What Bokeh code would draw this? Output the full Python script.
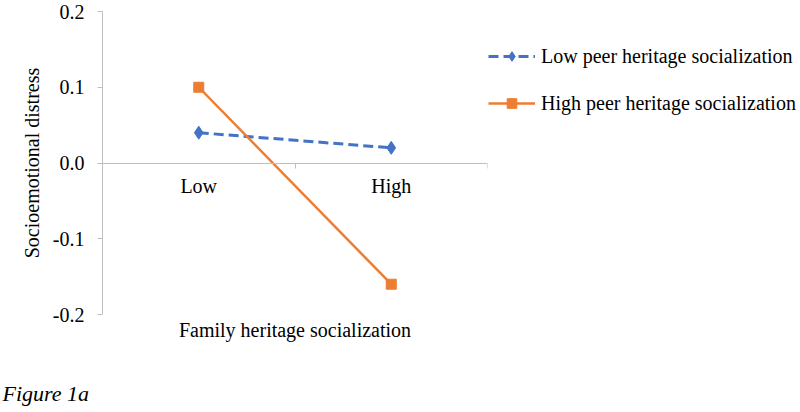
from bokeh.plotting import figure
from bokeh.models import (FixedTicker, NumeralTickFormatter, Legend, LegendItem,
                          Range1d, ColumnDataSource, Title)
from bokeh.embed import file_html
from bokeh.resources import INLINE

categories = ["Low", "High"]
low_peer = [0.04, 0.02]
high_peer = [0.10, -0.16]
y_ticks = [-0.2, -0.1, 0.0, 0.1, 0.2]
series_names = ["Low peer heritage socialization", "High peer heritage socialization"]

FONT = "Liberation Serif"
FS = "20px"
AXIS_GRAY = "#BFBFBF"
BLUE = "#4472C4"
ORANGE = "#ED7D31"

xpos = [i + 0.5 for i in range(len(categories))]

p = figure(frame_width=385, frame_height=303, output_backend="svg", toolbar_location=None,
           x_range=Range1d(0, len(categories)), y_range=Range1d(-0.2, 0.2),
           min_border_left=102, min_border_right=312,
           min_border_top=11, min_border_bottom=0)
p.outline_line_color = None
p.xgrid.visible = False
p.ygrid.visible = False
p.background_fill_color = "white"
p.border_fill_color = "white"

# y axis
ya = p.yaxis[0]
ya.ticker = FixedTicker(ticks=y_ticks, minor_ticks=[])
ya.formatter = NumeralTickFormatter(format="0.0")
ya.axis_line_color = AXIS_GRAY
ya.major_tick_line_color = AXIS_GRAY
ya.major_tick_out = 5
ya.major_tick_in = 0
ya.minor_tick_line_color = None
ya.major_label_text_font = FONT
ya.major_label_text_font_size = FS
ya.major_label_text_color = "black"
ya.major_label_standoff = 13
ya.axis_label = "Socioemotional distress"
ya.axis_label_text_font = FONT
ya.axis_label_text_font_size = FS
ya.axis_label_text_font_style = "normal"
ya.axis_label_text_color = "black"
ya.axis_label_standoff = 7

# x axis crossing at y = 0
xa = p.xaxis[0]
xa.fixed_location = 0
xa.ticker = FixedTicker(ticks=xpos, minor_ticks=list(range(len(categories) + 1)))
xa.major_label_overrides = {x: c for x, c in zip(xpos, categories)}
xa.axis_line_color = AXIS_GRAY
xa.major_tick_line_color = None
xa.major_tick_out = 0
xa.major_tick_in = 0
xa.minor_tick_line_color = AXIS_GRAY
xa.minor_tick_out = 5
xa.minor_tick_in = 0
xa.major_label_text_font = FONT
xa.major_label_text_font_size = FS
xa.major_label_text_color = "black"
xa.major_label_standoff = 7

src = ColumnDataSource(dict(x=xpos, low=low_peer, high=high_peer))

l1 = p.line("x", "low", source=src, line_color=BLUE, line_width=3, line_dash="10 5")
m1 = p.scatter("x", "low", source=src, marker="diamond", size=13, fill_color=BLUE, line_color=BLUE)
l2 = p.line("x", "high", source=src, line_color=ORANGE, line_width=2.5)
m2 = p.scatter("x", "high", source=src, marker="square", size=10, fill_color=ORANGE, line_color=ORANGE)

legend = Legend(items=[LegendItem(label=series_names[0], renderers=[l1, m1]),
                       LegendItem(label=series_names[1], renderers=[l2, m2])],
                location=(1, 199), orientation="vertical")
legend.glyph_width = 47
legend.glyph_height = 24
legend.spacing = 23
legend.label_standoff = 6
legend.padding = 0
legend.margin = 0
legend.border_line_color = None
legend.background_fill_alpha = 0
legend.label_text_font = FONT
legend.label_text_font_size = FS
legend.label_text_color = "black"
p.add_layout(legend, "right")

xtitle = Title(text="Family heritage socialization", align="center", offset=8,
               standoff=4, text_font=FONT, text_font_size=FS, text_color="black",
               text_font_style="normal")
p.add_layout(xtitle, "below")

fig_label = Title(text="Figure 1a", align="left", offset=-100, standoff=73,
                  text_font=FONT, text_font_size="22px", text_font_style="italic",
                  text_color="black")
p.add_layout(fig_label, "below")

open("out.html", "w").write(file_html(p, INLINE))
